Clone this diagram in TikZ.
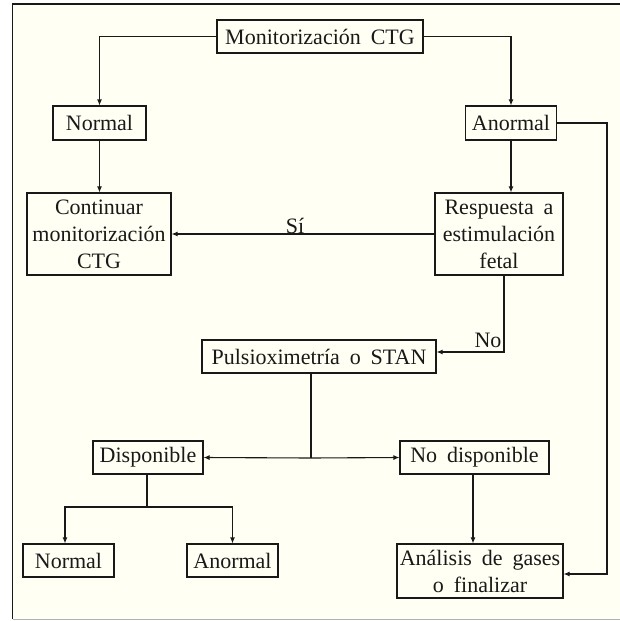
\documentclass[tikz,border=0pt]{standalone}
\usepackage{fontspec}
\setmainfont{Liberation Serif}
\usetikzlibrary{arrows.meta}
\definecolor{cream}{RGB}{255,255,243}
\definecolor{ink}{RGB}{25,25,25}
\newcommand{\boxfont}{\fontsize{22}{27}\selectfont\spaceskip=0.45em\relax}
\begin{document}
\begin{tikzpicture}[x=1pt,y=-1pt,
  box/.style={draw=ink, line width=1.1pt, fill=cream, inner sep=0pt, align=center,
    font=\boxfont, text=ink},
  conn/.style={line width=1.1pt, draw=ink, -{Latex[length=6pt,width=5pt]}},
  plain/.style={line width=1.1pt, draw=ink},
  lbl/.style={font=\boxfont, inner sep=0pt, text=ink}]
\useasboundingbox (0,0) rectangle (620,621);
\fill[cream] (12.5,4) rectangle (620,619);
\draw[ink, line width=1.3pt] (12.5,619) -- (12.5,4) -- (620,4);
\draw[gray!60, line width=1pt] (12.5,619) -- (620,619);

\node[box, minimum width=206pt, minimum height=33pt] (mon) at (320,36.5) {Monitorización CTG};
\node[box, minimum width=93pt, minimum height=34pt] (n1) at (99.5,123) {Normal};
\node[box, minimum width=91pt, minimum height=34pt] (a1) at (511,123) {Anormal};
\node[box, minimum width=144pt, minimum height=82pt] (cont) at (99,234) {Continuar\\monitorización\\CTG};
\node[box, minimum width=128pt, minimum height=82pt] (resp) at (499,234) {Respuesta a\\estimulación\\fetal};
\node[box, minimum width=234pt, minimum height=33pt] (pulsi) at (319,356.5) {Pulsioximetría o STAN};
\node[box, minimum width=110pt, minimum height=33pt] (disp) at (148,457.5) {Disponible};
\node[box, minimum width=149pt, minimum height=33pt] (nodisp) at (474.5,457.5) {No disponible};
\node[box, minimum width=91pt, minimum height=33pt] (n2) at (68.5,560.5) {Normal};
\node[box, minimum width=91pt, minimum height=33pt] (a2) at (232.5,560.5) {Anormal};
\node[box, minimum width=166pt, minimum height=54pt] (anal) at (480,571) {Análisis de gases\\o finalizar};

\node[lbl] (si) at (295,226) {Sí};
\node[lbl] (no) at (488,340) {No};

\coordinate (rc) at (607,574);
\coordinate (j) at (311,458);
\coordinate (k) at (147,507);
\coordinate (nd) at ([xshift=-1.5pt]nodisp.south);

\draw[conn] (mon.west) -| (n1.north);
\draw[conn] (mon.east) -| (a1.north);
\draw[conn] (n1.south) -- (cont.north -| n1.south);
\draw[conn] (a1.south) -- (resp.north -| a1.south);
\draw[conn] (a1.east) -| (rc) -- (anal.east |- rc);
\draw[conn] (resp.west) -- (cont.east);
\draw[conn] ([xshift=5pt]resp.south) |- ([yshift=4.5pt]pulsi.east);
\draw[plain] (pulsi.south -| j) -- (j);
\draw[conn] (j) -- (disp.east);
\draw[conn] (j) -- (nodisp.west);
\draw[plain] (disp.south -| k) -- (k);
\draw[conn] (k) -| ([xshift=-3.5pt]n2.north);
\draw[conn] (k) -| (a2.north);
\draw[conn] (nd) -- (anal.north -| nd);
\end{tikzpicture}
\end{document}
